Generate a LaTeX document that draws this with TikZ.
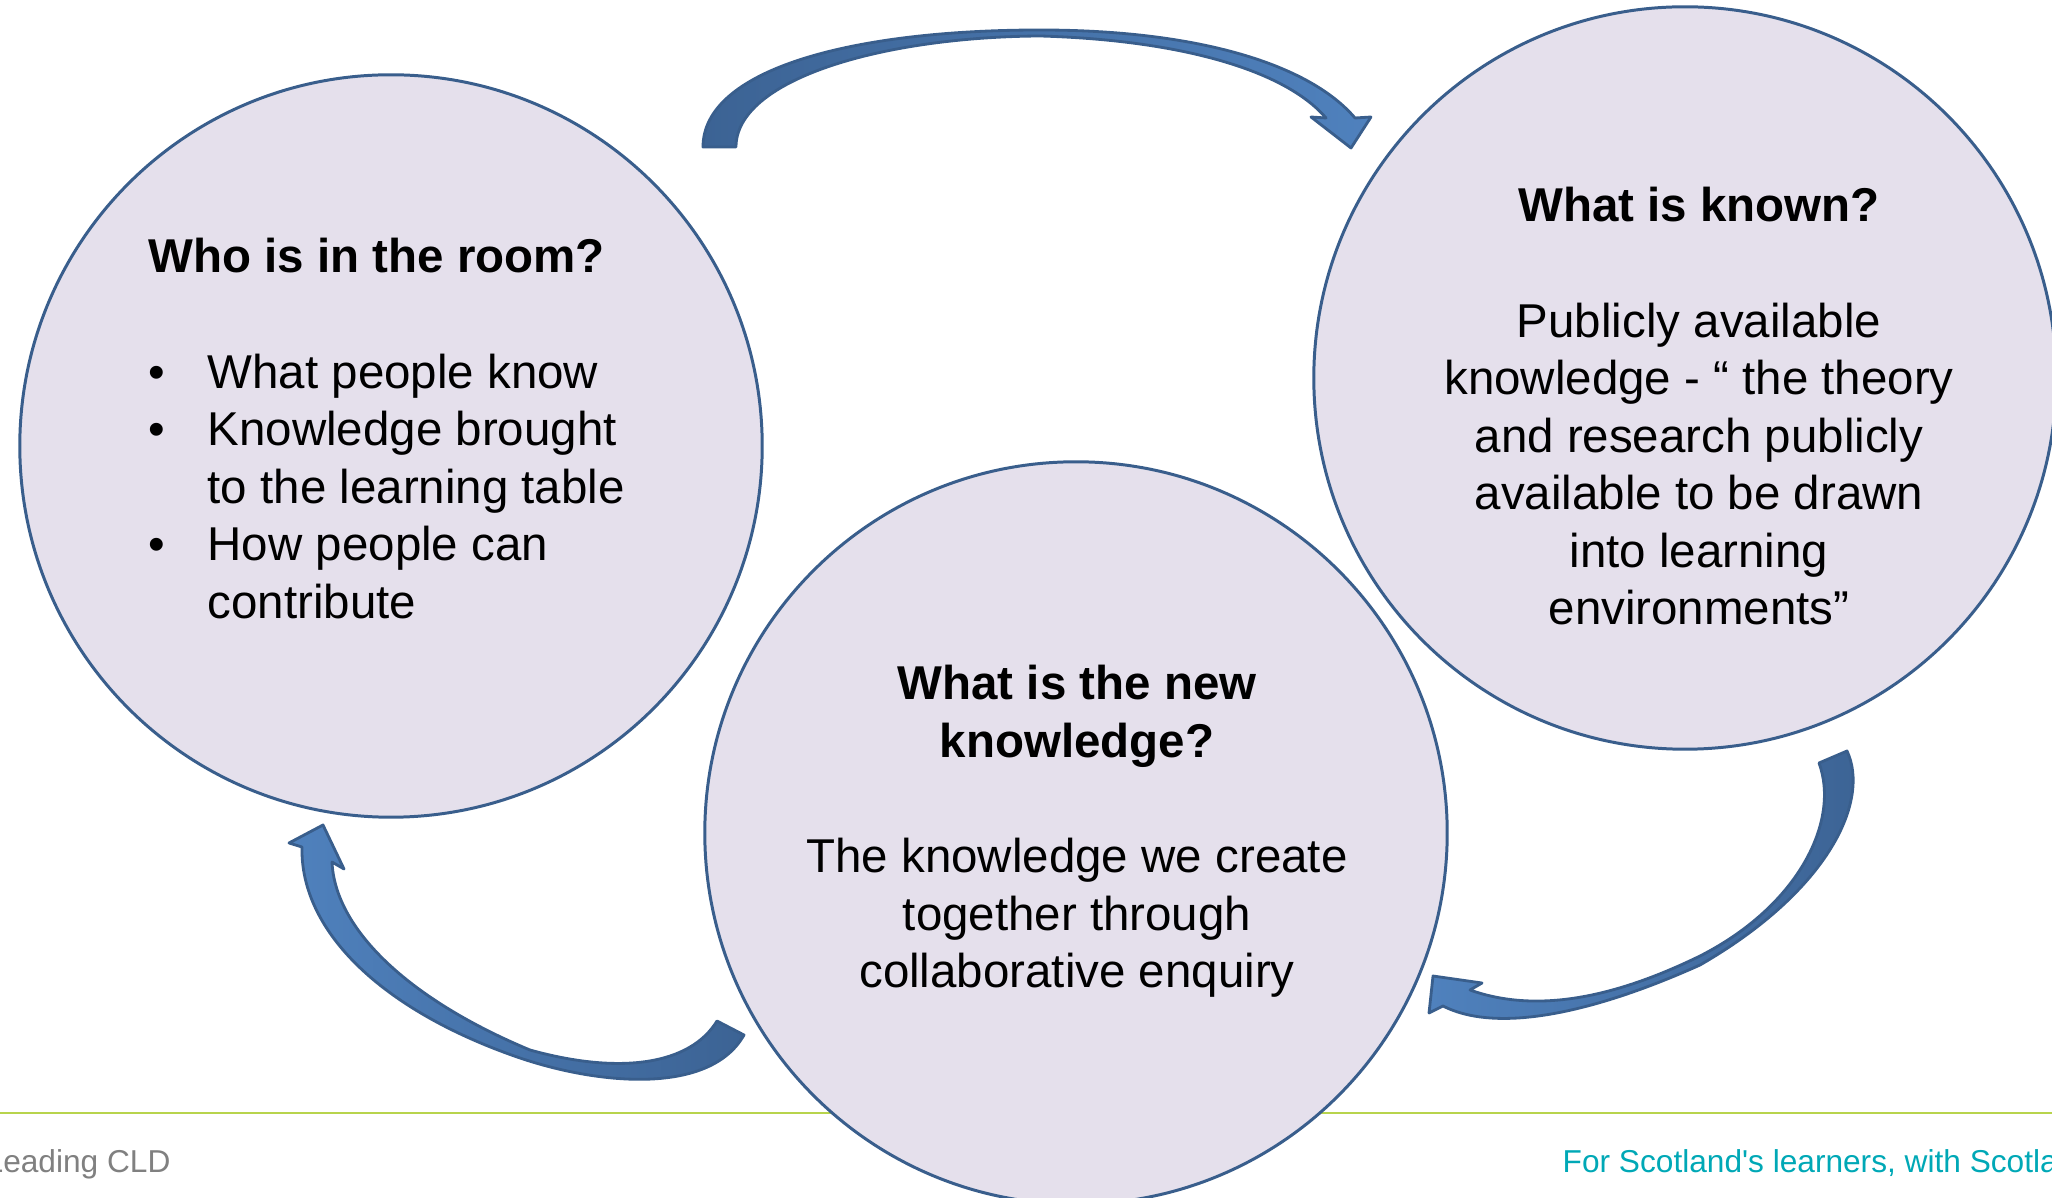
\documentclass[tikz,border=0pt]{standalone}
\usepackage{fontspec}
\setmainfont{Liberation Sans}
\definecolor{bubblefill}{RGB}{229,224,236}
\definecolor{bubbleedge}{RGB}{57,94,140}
\definecolor{arrowdark}{RGB}{60,99,148}
\definecolor{arrowlight}{RGB}{79,129,189}
\definecolor{footline}{RGB}{184,212,76}
\definecolor{footgray}{RGB}{128,128,128}
\definecolor{footteal}{RGB}{0,168,182}
\newcommand{\bodyfont}{\fontsize{13.5pt}{16.36pt}\selectfont}
\newcommand{\footfont}{\fontsize{9pt}{11pt}\selectfont}
\newcommand{\bubble}[3]{\node[bubble] (#1) at (#2,#3) {};}
\newcommand{\bulletitem}[1]{\par\hangindent=0.59cm\hangafter=1\noindent\makebox[0.59cm][l]{\textbullet}#1}

\begin{document}
\begin{tikzpicture}[x=0.01cm,y=-0.01cm,
    bubble/.style={circle,draw=bubbleedge,fill=bubblefill,line width=0.85pt,minimum size=7.42cm,inner sep=0pt},
    txt/.style={anchor=base,inner sep=0pt,font=\bodyfont},
    foot/.style={anchor=base west,inner sep=0pt,font=\footfont},
    ribbon/.style={draw=bubbleedge,line width=0.8pt,line join=round}]
    \useasboundingbox (0,0) rectangle (2052,1198);
    % footer rule
    \coordinate (footL) at (0,1113); \coordinate (footR) at (2052,1113);
    \draw[footline,line width=0.6pt] (footL) -- (footR);
    \node[foot,text=footgray] (cld) at (-15,1172) {Leading CLD};
    \node[foot,text=footteal] (slogan) at (1562,1172) {For Scotland\textquotesingle s learners, with Scotland\textquotesingle s educators};

    % the three circles
    \bubble{room}{391}{446}
    \bubble{known}{1685}{378}
    \bubble{new}{1076}{833}

    \node[txt,anchor=base west] (roomtxt) at (148,273) {\parbox[t]{6cm}{
        \textbf{Who is in the room?}\par\vspace{\baselineskip}
        \bulletitem{What people know}
        \bulletitem{Knowledge brought\newline to the learning table}
        \bulletitem{How people can\newline contribute}}};
    \node[txt] (knowntxt) at (1699,222) {\parbox[t]{6cm}{\centering
        \textbf{What is known?}\par\vspace{\baselineskip}
        Publicly available\\knowledge - “ the theory\\and research publicly\\available to be drawn\\into learning\\environments”}};
    \node[txt] (newtxt) at (1077,700) {\parbox[t]{6cm}{\centering
        \textbf{What is the new\\knowledge?}\par\vspace{\baselineskip}
        The knowledge we create\\together through\\collaborative enquiry}};

    % curved arrows
    \path[ribbon,left color=arrowdark,right color=arrowlight]
        (703,147) .. controls (703,70) and (850,30) .. (1040,30)
        .. controls (1200,30) and (1310,65) .. (1355,118)
        -- (1371,117) -- (1351,148) -- (1311,117) -- (1326,118)
        .. controls (1285,70) and (1180,40) .. (1040,36)
        .. controls (880,37) and (736,80) .. (736,147) -- cycle;
    \path[ribbon,left color=arrowlight,right color=arrowdark]
        (1847,751) .. controls (1870,800) and (1830,890) .. (1700,965)
        .. controls (1600,1010) and (1500,1035) .. (1443,1006)
        -- (1429,1013) -- (1433,976) -- (1482,983) -- (1470,990)
        .. controls (1540,1015) and (1620,995) .. (1700,956)
        .. controls (1800,905) and (1840,820) .. (1819,763) -- cycle;
    \path[ribbon,left color=arrowlight,right color=arrowdark]
        (744,1035) .. controls (710,1095) and (600,1085) .. (520,1058)
        .. controls (380,1010) and (300,930) .. (302,847)
        -- (289,843) -- (323,825) -- (344,869) -- (332,862)
        .. controls (335,930) and (410,1000) .. (530,1050)
        .. controls (620,1075) and (690,1065) .. (717,1021) -- cycle;
\end{tikzpicture}
\end{document}
